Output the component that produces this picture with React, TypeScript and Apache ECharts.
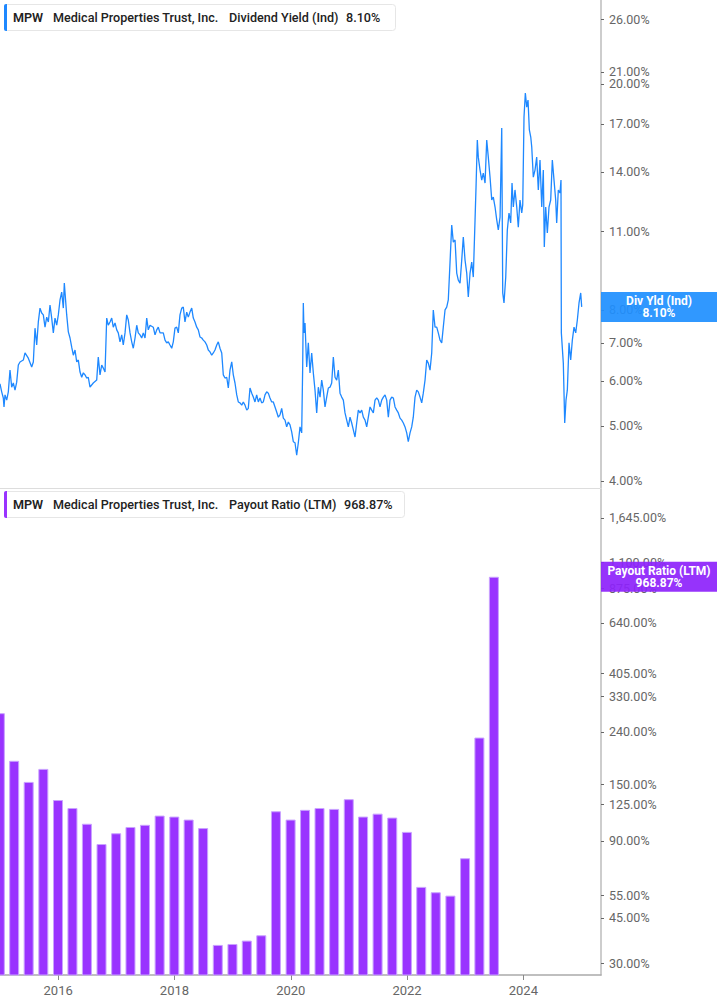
import React, { useEffect, useRef } from 'react';
import * as echarts from 'echarts';

// ---- Data ----
const TICKER = 'MPW';
const COMPANY = 'Medical Properties Trust, Inc.';
const YIELD_NAME = 'Dividend Yield (Ind)';
const YIELD_SHORT = 'Div Yld (Ind)';
const PAYOUT_NAME = 'Payout Ratio (LTM)';

// dates as decimal years
const yieldDates = [
  2015.000, 2015.029, 2015.057, 2015.069, 2015.086, 2015.115, 2015.143, 2015.172, 2015.201, 2015.229,
  2015.258, 2015.287, 2015.315, 2015.344, 2015.401, 2015.430, 2015.487, 2015.545, 2015.573, 2015.602,
  2015.631, 2015.659, 2015.688, 2015.717, 2015.745, 2015.774, 2015.803, 2015.831, 2015.860, 2015.889,
  2015.917, 2015.946, 2015.975, 2016.003, 2016.032, 2016.061, 2016.089, 2016.106, 2016.147, 2016.175,
  2016.204, 2016.233, 2016.261, 2016.290, 2016.319, 2016.347, 2016.376, 2016.405, 2016.433, 2016.462,
  2016.491, 2016.518, 2016.548, 2016.604, 2016.663, 2016.690, 2016.720, 2016.749, 2016.776, 2016.806,
  2016.835, 2016.862, 2016.892, 2016.921, 2016.948, 2016.978, 2017.007, 2017.034, 2017.064, 2017.093,
  2017.120, 2017.150, 2017.179, 2017.206, 2017.236, 2017.265, 2017.292, 2017.322, 2017.351, 2017.378,
  2017.408, 2017.437, 2017.464, 2017.494, 2017.523, 2017.550, 2017.580, 2017.636, 2017.666, 2017.695,
  2017.722, 2017.752, 2017.808, 2017.838, 2017.867, 2017.894, 2017.923, 2017.953, 2017.980, 2018.009,
  2018.039, 2018.066, 2018.095, 2018.125, 2018.152, 2018.181, 2018.211, 2018.238, 2018.267, 2018.297,
  2018.324, 2018.353, 2018.383, 2018.410, 2018.439, 2018.469, 2018.496, 2018.525, 2018.555, 2018.582,
  2018.611, 2018.641, 2018.668, 2018.697, 2018.727, 2018.754, 2018.783, 2018.813, 2018.840, 2018.869,
  2018.899, 2018.926, 2018.955, 2018.985, 2019.012, 2019.041, 2019.071, 2019.098, 2019.127, 2019.157,
  2019.184, 2019.213, 2019.243, 2019.270, 2019.299, 2019.329, 2019.356, 2019.385, 2019.414, 2019.442,
  2019.471, 2019.500, 2019.528, 2019.557, 2019.586, 2019.614, 2019.643, 2019.672, 2019.700, 2019.729,
  2019.758, 2019.786, 2019.815, 2019.844, 2019.872, 2019.901, 2019.930, 2019.958, 2019.987, 2020.016,
  2020.044, 2020.073, 2020.102, 2020.130, 2020.159, 2020.188, 2020.205, 2020.216, 2020.228, 2020.245,
  2020.274, 2020.302, 2020.331, 2020.360, 2020.388, 2020.417, 2020.446, 2020.474, 2020.503, 2020.532,
  2020.560, 2020.589, 2020.618, 2020.646, 2020.675, 2020.704, 2020.732, 2020.761, 2020.790, 2020.818,
  2020.847, 2020.876, 2020.904, 2020.933, 2020.962, 2020.990, 2021.019, 2021.048, 2021.076, 2021.105,
  2021.134, 2021.162, 2021.191, 2021.220, 2021.248, 2021.277, 2021.306, 2021.334, 2021.363, 2021.392,
  2021.420, 2021.449, 2021.478, 2021.506, 2021.535, 2021.564, 2021.592, 2021.621, 2021.650, 2021.678,
  2021.707, 2021.736, 2021.764, 2021.793, 2021.822, 2021.850, 2021.879, 2021.908, 2021.936, 2021.965,
  2021.994, 2022.021, 2022.051, 2022.080, 2022.107, 2022.137, 2022.166, 2022.193, 2022.223, 2022.252,
  2022.279, 2022.309, 2022.338, 2022.365, 2022.395, 2022.424, 2022.451, 2022.481, 2022.510, 2022.537,
  2022.567, 2022.596, 2022.623, 2022.653, 2022.682, 2022.709, 2022.739, 2022.768, 2022.795, 2022.825,
  2022.854, 2022.881, 2022.911, 2022.940, 2022.967, 2022.997, 2023.026, 2023.053, 2023.083, 2023.112,
  2023.139, 2023.169, 2023.186, 2023.208, 2023.225, 2023.255, 2023.284, 2023.311, 2023.341, 2023.370,
  2023.397, 2023.427, 2023.456, 2023.483, 2023.513, 2023.542, 2023.569, 2023.599, 2023.628, 2023.645,
  2023.667, 2023.697, 2023.724, 2023.753, 2023.782, 2023.805, 2023.827, 2023.856, 2023.886, 2023.913,
  2023.942, 2023.972, 2023.989, 2024.011, 2024.034, 2024.058, 2024.080, 2024.103, 2024.127, 2024.144,
  2024.171, 2024.200, 2024.229, 2024.257, 2024.286, 2024.316, 2024.343, 2024.360, 2024.384, 2024.412,
  2024.441, 2024.470, 2024.498, 2024.527, 2024.556, 2024.573, 2024.601, 2024.630, 2024.647, 2024.653,
  2024.687, 2024.711, 2024.733, 2024.756, 2024.785, 2024.814, 2024.842, 2024.871, 2024.900, 2024.928,
  2024.957, 2024.986, 2025.003,
];

// dividend yield, %
const yieldValues = [
  5.93, 5.74, 5.60, 5.40, 5.67, 5.55, 5.74, 6.27, 5.85, 5.95,
  5.78, 5.97, 6.40, 6.48, 6.53, 6.72, 6.58, 6.35, 6.48, 7.43,
  6.94, 7.62, 8.06, 7.90, 7.84, 7.46, 7.77, 7.62, 8.16, 7.74,
  7.29, 7.74, 7.52, 7.84, 8.33, 8.60, 8.06, 8.92, 7.84, 7.32,
  7.14, 6.88, 6.66, 6.80, 6.48, 6.53, 6.22, 6.09, 6.20, 6.15,
  6.07, 6.09, 5.85, 5.95, 6.02, 6.61, 6.15, 6.40, 6.32, 6.22,
  7.74, 7.52, 7.62, 7.74, 7.46, 7.59, 7.38, 7.29, 7.03, 7.23,
  6.94, 7.29, 7.84, 7.68, 7.29, 7.03, 6.85, 7.14, 7.52, 7.29,
  7.23, 7.14, 7.29, 7.14, 7.74, 7.38, 7.52, 7.46, 7.23, 7.38,
  7.46, 7.29, 7.29, 7.08, 7.00, 7.03, 6.94, 6.85, 7.03, 7.43,
  7.46, 7.29, 7.84, 8.06, 8.09, 7.62, 7.93, 7.77, 7.93, 8.06,
  7.74, 7.62, 7.46, 7.38, 7.17, 7.14, 7.08, 7.03, 6.94, 6.80,
  6.75, 6.66, 6.72, 6.80, 6.94, 7.03, 6.85, 6.72, 6.15, 6.07,
  6.09, 5.83, 6.27, 6.48, 6.15, 5.95, 5.67, 5.51, 5.49, 5.44,
  5.51, 5.44, 5.33, 5.37, 5.83, 5.71, 5.62, 5.51, 5.67, 5.51,
  5.60, 5.49, 5.51, 5.67, 5.74, 5.71, 5.60, 5.51, 5.51, 5.40,
  5.29, 5.18, 5.23, 5.37, 5.16, 5.12, 4.98, 5.08, 5.02, 4.88,
  4.69, 4.67, 4.44, 4.67, 4.98, 4.86, 6.35, 8.23, 7.29, 7.59,
  6.35, 7.00, 6.20, 6.72, 6.20, 5.78, 5.27, 5.85, 5.62, 6.02,
  5.78, 5.40, 5.62, 5.83, 5.85, 5.95, 6.61, 6.09, 6.02, 6.27,
  5.71, 5.62, 5.55, 5.27, 5.12, 4.98, 5.18, 5.06, 4.92, 4.78,
  5.06, 5.33, 5.27, 5.33, 5.18, 5.12, 4.98, 5.18, 5.40, 5.33,
  5.27, 5.55, 5.60, 5.55, 5.40, 5.55, 5.62, 5.67, 5.55, 5.18,
  5.55, 5.62, 5.60, 5.40, 5.33, 5.27, 5.16, 5.12, 5.06, 4.98,
  4.86, 4.69, 4.86, 4.98, 5.18, 5.62, 5.78, 5.74, 5.62, 5.49,
  5.71, 6.02, 6.53, 6.45, 6.27, 6.72, 8.00, 7.46, 7.46, 7.29,
  7.08, 7.00, 7.46, 8.00, 8.09, 8.33, 9.71, 11.28, 10.53, 10.62,
  9.29, 9.03, 8.92, 9.79, 10.75, 9.79, 9.29, 8.43, 9.29, 9.71,
  9.14, 11.52, 13.16, 15.93, 14.86, 14.10, 13.54, 13.93, 13.38, 15.93,
  14.86, 13.70, 12.49, 12.64, 12.14, 11.52, 11.06, 11.65, 16.72, 8.57,
  8.23, 9.14, 11.06, 11.85, 11.38, 13.38, 12.14, 13.01, 12.14, 11.19,
  12.49, 11.85, 12.24, 17.48, 19.27, 18.20, 18.73, 16.59, 16.12, 15.48,
  13.70, 14.10, 14.86, 13.01, 14.69, 12.14, 14.10, 10.32, 12.14, 10.93,
  12.14, 12.49, 14.69, 13.54, 12.49, 11.38, 13.01, 12.85, 13.54, 7.29,
  6.45, 5.06, 5.55, 5.78, 7.00, 6.53, 7.08, 7.46, 7.29, 7.68,
  8.23, 8.57, 8.10,
];

const quarterEnds = [
  '2014-12-31', '2015-03-31', '2015-06-30', '2015-09-30', '2015-12-31',
  '2016-03-31', '2016-06-30', '2016-09-30', '2016-12-31',
  '2017-03-31', '2017-06-30', '2017-09-30', '2017-12-31',
  '2018-03-31', '2018-06-30', '2018-09-30', '2018-12-31',
  '2019-03-31', '2019-06-30', '2019-09-30', '2019-12-31',
  '2020-03-31', '2020-06-30', '2020-09-30', '2020-12-31',
  '2021-03-31', '2021-06-30', '2021-09-30', '2021-12-31',
  '2022-03-31', '2022-06-30', '2022-09-30', '2022-12-31',
  '2023-03-31', '2023-06-30',
];

// payout ratio (LTM), %
const payoutRatios = [
  284, 185, 153, 172, 130,
  121, 105, 87.5, 96.4,
  102, 104, 113, 112,
  109, 101, 35.3, 35.6,
  36.7, 38.5, 117.5, 109,
  119, 121, 120, 131,
  112, 115, 111, 97.6,
  59.5, 56.7, 55.0, 77,
  228, 968.87,
];

const yieldTicks = [4, 5, 6, 7, 8, 11, 14, 17, 20, 21, 26];
const payoutTicks = [30, 45, 55, 90, 125, 150, 240, 330, 405, 640, 875, 1100, 1645];
const yearTicks = [2016, 2018, 2020, 2022, 2024];

// ---- helpers ----
function toYear(s: string): number {
  const [y, m, d] = s.split('-').map(Number);
  const start = Date.UTC(y, 0, 1);
  const end = Date.UTC(y + 1, 0, 1);
  return y + (Date.UTC(y, m - 1, d) - start) / (end - start);
}
const fmtPct = (v: number) =>
  v.toLocaleString('en-US', { minimumFractionDigits: 2, maximumFractionDigits: 2 }) + '%';

const FONT = 'Roboto, "Noto Sans", "Liberation Sans", sans-serif';
const BLUE = '#1e88ff';
const BLUE_BOX = '#1e8fff';
const PURPLE = '#9933ff';
const PURPLE_BOX = '#8d22fb';

function legendBox(top: number, width: number, accent: string, name: string, value: string, valueX: number) {
  const cy = top + 13;
  const txt = (text: string, x: number, weight: number | string) => ({
    type: 'text',
    z: 100,
    style: {
      text,
      x,
      y: cy,
      verticalAlign: 'middle',
      align: 'left',
      fill: '#222',
      fontFamily: FONT,
      fontSize: 12.6,
      fontWeight: weight,
    },
  });
  return [
    {
      type: 'rect',
      z: 99,
      shape: { x: 4.5, y: top + 0.5, width, height: 26, r: 3 },
      style: { fill: '#ffffff', stroke: '#e6e6e6', lineWidth: 1 },
    },
    {
      type: 'rect',
      z: 100,
      shape: { x: 4, y: top, width: 3, height: 27, r: [2, 0, 0, 2] },
      style: { fill: accent },
    },
    txt(TICKER, 13, 600),
    txt(COMPANY, 53, 500),
    txt(name, 229, 500),
    txt(value, valueX, 500),
  ];
}

function valueBox(cy: number, color: string, line1: string, line2: string) {
  return [
    {
      type: 'rect',
      z: 110,
      shape: { x: 601, y: cy - 15, width: 116, height: 30 },
      style: { fill: color, opacity: 0.92 },
    },
    {
      type: 'text',
      z: 111,
      style: {
        text: line1 + '\n' + line2,
        x: 659,
        y: cy,
        align: 'center',
        verticalAlign: 'middle',
        fill: '#ffffff',
        fontFamily: FONT,
        fontSize: 12,
        fontWeight: 'bold',
        lineHeight: 11.5,
      },
    },
  ];
}

export default function App() {
  const ref = useRef<HTMLDivElement>(null);

  useEffect(() => {
    if (!ref.current) return;
    const chart = echarts.init(ref.current, null, { renderer: 'svg' });

    const lastYield = yieldValues[yieldValues.length - 1];
    const lastPayout = payoutRatios[payoutRatios.length - 1];

    const yAxisCommon = (ticks: number[]) => ({
      type: 'value',
      position: 'right',
      scale: true,
      splitLine: { show: false },
      axisLine: { show: true, onZero: false, lineStyle: { color: '#bdbdbd', width: 1.5 } },
      axisTick: {
        show: true,
        customValues: ticks.map((t) => Math.log(t)),
        length: 3,
        lineStyle: { color: '#666', width: 1 },
      },
      axisLabel: {
        customValues: ticks.map((t) => Math.log(t)),
        formatter: (v: number) => fmtPct(Math.exp(v)),
        color: '#666',
        fontFamily: FONT,
        fontSize: 12.5,
        margin: 8,
      },
    });

    const option: any = {
      animation: false,
      grid: [
        { left: 0, top: 0, width: 601, height: 488 },
        { left: 0, top: 489, width: 601, height: 486 },
      ],
      xAxis: [
        {
          gridIndex: 0,
          type: 'value',
          min: 2015,
          max: 2025.335,
          axisLine: { show: true, onZero: false, lineStyle: { color: '#dddddd', width: 1 } },
          axisTick: { show: false },
          axisLabel: { show: false },
          splitLine: { show: false },
        },
        {
          gridIndex: 1,
          type: 'value',
          min: 2015,
          max: 2025.335,
          axisLine: { show: true, onZero: false, lineStyle: { color: '#aaaaaa', width: 1.5 } },
          axisTick: {
            show: true,
            customValues: yearTicks,
            length: 5,
            lineStyle: { color: '#888', width: 1 },
          },
          axisLabel: {
            customValues: yearTicks,
            formatter: (v: number) => String(Math.round(v)),
            color: '#666',
            fontFamily: FONT,
            fontSize: 13,
            margin: 9,
          },
          splitLine: { show: false },
        },
      ],
      yAxis: [
        { gridIndex: 0, min: Math.log(3.888), max: Math.log(28.09), ...yAxisCommon(yieldTicks) },
        { gridIndex: 1, min: Math.log(26.93), max: Math.log(2134), ...yAxisCommon(payoutTicks) },
      ],
      series: [
        {
          name: YIELD_NAME,
          type: 'line',
          xAxisIndex: 0,
          yAxisIndex: 0,
          data: yieldDates.map((d, i) => [d, Math.log(yieldValues[i])]),
          showSymbol: false,
          symbol: 'none',
          clip: true,
          lineStyle: { color: BLUE, width: 1.3 },
        },
        {
          name: PAYOUT_NAME,
          type: 'bar',
          xAxisIndex: 1,
          yAxisIndex: 1,
          data: quarterEnds.map((d, i) => [toYear(d), Math.log(payoutRatios[i])]),
          barWidth: 10,
          clip: true,
          itemStyle: { color: PURPLE, borderColor: '#c9a2ff', borderWidth: 1 },
        },
      ],
    };

    chart.setOption(option);

    const yY = chart.convertToPixel({ yAxisIndex: 0 }, Math.log(lastYield)) as number;
    const yP = chart.convertToPixel({ yAxisIndex: 1 }, Math.log(lastPayout)) as number;

    chart.setOption({
      graphic: [
        ...legendBox(4, 391, BLUE, YIELD_NAME, fmtPct(lastYield), 346),
        ...legendBox(491, 400, PURPLE, PAYOUT_NAME, fmtPct(lastPayout), 344),
        ...valueBox(yY, BLUE_BOX, YIELD_SHORT, fmtPct(lastYield)),
        ...valueBox(yP, PURPLE_BOX, PAYOUT_NAME, fmtPct(lastPayout)),
      ],
    });

    return () => {
      chart.dispose();
    };
  }, []);

  return (
    <div
      ref={ref}
      style={{ position: 'absolute', left: 0, top: 0, width: 717, height: 1005, background: '#fff' }}
    />
  );
}
